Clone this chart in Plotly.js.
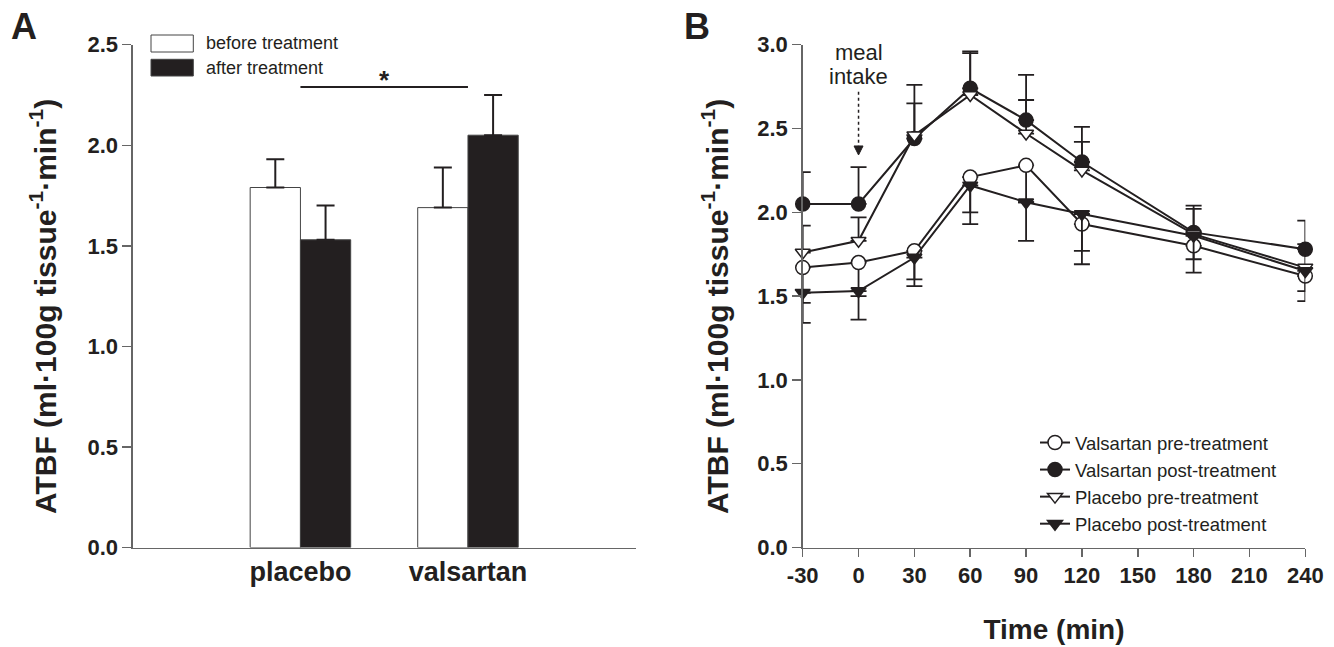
<!DOCTYPE html>
<html>
<head>
<meta charset="utf-8">
<script src="https://cdn.plot.ly/plotly-3.0.1.min.js"></script>
<style>html,body{margin:0;padding:0;background:#fff;}#chart{width:1334px;height:647px;}</style>
</head>
<body>
<div id="chart"></div>
<script>
// ---------- Panel A data ----------
const groups = ['placebo', 'valsartan'];
const barSeriesNames = ['before treatment', 'after treatment'];
const beforeTreatment = [1.79, 1.69];
const beforeSE = [0.14, 0.20];
const afterTreatment = [1.53, 2.05];
const afterSE = [0.17, 0.20];
const sigLevel = 2.29;
const sigLabel = '*';

// ---------- Panel B data ----------
const timePoints = [-30, 0, 30, 60, 90, 120, 180, 240];
const timeTicks = [-30, 0, 30, 60, 90, 120, 150, 180, 210, 240];
const timeTickLabels = ['-30', '0', '30', '60', '90', '120', '150', '180', '210', '240'];
const lineSeriesNames = ['Valsartan pre-treatment', 'Valsartan post-treatment', 'Placebo pre-treatment', 'Placebo post-treatment'];
const valsartanPre = [1.67, 1.70, 1.77, 2.21, 2.28, 1.93, 1.80, 1.62];
const valsartanPreSE = [0.21, 0.20, 0.17, 0.21, 0.22, 0.24, 0.16, 0.15];
const valsartanPost = [2.05, 2.05, 2.44, 2.74, 2.55, 2.30, 1.88, 1.78];
const valsartanPostSE = [0.19, 0.22, 0.32, 0.22, 0.27, 0.21, 0.16, 0.17];
const placeboPre = [1.76, 1.83, 2.46, 2.70, 2.47, 2.25, 1.87, 1.67];
const placeboPreSE = [0.16, 0.14, 0.19, 0.25, 0.20, 0.17, 0.15, 0.14];
const placeboPost = [1.52, 1.53, 1.73, 2.16, 2.06, 1.99, 1.86, 1.65];
const placeboPostSE = [0.18, 0.17, 0.17, 0.23, 0.23, 0.22, 0.14, 0.12];
const mealTime = 0;
const mealArrowTip = 2.342;

const INK = '#231f20';
const AXC = '#666666';
const FONT = 'Liberation Sans, Arial, Helvetica, sans-serif';
const W = 1334, H = 647;
const px = v => v / W;
const py = v => (H - v) / H;
const zeros = a => a.map(() => 0);

const yTitle = 'ATBF (ml·100g tissue<sup>-1</sup>·min<sup>-1</sup>)';

const traces = [
  {
    type: 'bar', x: groups, y: beforeTreatment, name: barSeriesNames[0],
    xaxis: 'x', yaxis: 'y', showlegend: false,
    marker: {color: '#ffffff', line: {color: '#444', width: 1}},
    error_y: {type: 'data', symmetric: false, array: beforeSE, arrayminus: zeros(beforeSE), color: INK, thickness: 2, width: 9}
  },
  {
    type: 'bar', x: groups, y: afterTreatment, name: barSeriesNames[1],
    xaxis: 'x', yaxis: 'y', showlegend: false,
    marker: {color: INK, line: {color: '#444', width: 1}},
    error_y: {type: 'data', symmetric: false, array: afterSE, arrayminus: zeros(afterSE), color: INK, thickness: 2, width: 9}
  }
];

function lineTrace(name, y, se, up, symbol, fill, size) {
  return {
    type: 'scatter', mode: 'lines+markers', x: timePoints, y: y, name: name,
    xaxis: 'x2', yaxis: 'y2', legend: 'legend2', cliponaxis: false,
    line: {color: INK, width: 2},
    marker: {symbol: symbol, size: size, color: fill, line: {color: INK, width: 1.5}},
    error_y: up
      ? {type: 'data', symmetric: false, array: se, arrayminus: zeros(se), color: INK, thickness: 1.8, width: 8}
      : {type: 'data', symmetric: false, array: zeros(se), arrayminus: se, color: INK, thickness: 1.8, width: 8}
  };
}
traces.push(lineTrace(lineSeriesNames[0], valsartanPre, valsartanPreSE, false, 'circle', '#ffffff', 14));
traces.push(lineTrace(lineSeriesNames[1], valsartanPost, valsartanPostSE, true, 'circle', INK, 14));
traces.push(lineTrace(lineSeriesNames[2], placeboPre, placeboPreSE, true, 'triangle-down', '#ffffff', 13));
traces.push(lineTrace(lineSeriesNames[3], placeboPost, placeboPostSE, false, 'triangle-down', INK, 13));

const axisCommon = {
  showline: true, linecolor: AXC, linewidth: 1.5, showgrid: false, zeroline: false,
  ticks: 'outside', ticklen: 9, tickwidth: 1.5, tickcolor: AXC,
  tickfont: {family: FONT, size: 22, color: INK, weight: 'bold'}, fixedrange: true
};

const yDom = [py(547.5), py(44.7)];
const titleFont = {family: FONT, size: 30, color: INK, weight: 'bold'};

const layout = {
  width: W, height: H,
  margin: {l: 0, r: 0, t: 0, b: 0},
  paper_bgcolor: '#ffffff', plot_bgcolor: '#ffffff',
  font: {family: FONT, color: INK},
  barmode: 'group', bargap: 0.4, bargroupgap: 0,
  showlegend: true,
  xaxis: Object.assign({}, axisCommon, {
    domain: [px(132.9), px(635.5)], anchor: 'y', type: 'category', range: [-1, 2],
    ticks: '', tickfont: {family: FONT, size: 27, color: INK, weight: 'bold'}
  }),
  yaxis: Object.assign({}, axisCommon, {
    domain: yDom, anchor: 'x', range: [0, 2.5], dtick: 0.5, tickformat: '.1f'
  }),
  xaxis2: Object.assign({}, axisCommon, {
    domain: [px(802.7), px(1305.3)], anchor: 'y2', range: [-30, 240],
    tickmode: 'array', tickvals: timeTicks, ticktext: timeTickLabels, ticklen: 8,
    title: {text: 'Time (min)', font: {family: FONT, size: 28, color: INK, weight: 'bold'}, standoff: 32}
  }),
  yaxis2: Object.assign({}, axisCommon, {
    domain: yDom, anchor: 'x2', range: [0, 3.0], dtick: 0.5, tickformat: '.1f'
  }),
  legend2: {
    x: px(1035), y: py(424), xanchor: 'left', yanchor: 'top',
    bgcolor: 'rgba(0,0,0,0)', borderwidth: 0, tracegroupgap: 0,
    font: {family: FONT, size: 18.5, color: INK}
  },
  shapes: [
    // significance bar between groups
    {type: 'line', xref: 'x', yref: 'y', x0: 0, x1: 1, y0: sigLevel, y1: sigLevel, line: {color: INK, width: 2}},
    // manual legend boxes for panel A
    {type: 'rect', xref: 'paper', yref: 'paper', x0: px(151), x1: px(193.3), y0: py(52), y1: py(35), fillcolor: '#ffffff', line: {color: '#444', width: 1}},
    {type: 'rect', xref: 'paper', yref: 'paper', x0: px(151), x1: px(193.3), y0: py(76), y1: py(59.3), fillcolor: INK, line: {color: '#444', width: 1}},
    // meal intake dashed arrow shaft
    {type: 'line', xref: 'x2', yref: 'y2', x0: mealTime, x1: mealTime, y0: 2.72, y1: 2.39, line: {color: INK, width: 1.5, dash: '3px,3px'}},
    // arrow head (pixel-sized, anchored at the tip)
    {type: 'path', xref: 'x2', yref: 'y2', xsizemode: 'pixel', ysizemode: 'pixel', xanchor: mealTime, yanchor: mealArrowTip,
     path: 'M0,0 L-4.5,9 L4.5,9 Z', fillcolor: INK, line: {color: INK, width: 1}}
  ],
  annotations: [
    {xref: 'paper', yref: 'paper', x: px(9), y: py(26), xanchor: 'left', yanchor: 'middle', text: 'A', showarrow: false, font: {family: FONT, size: 36, color: INK, weight: 'bold'}},
    {xref: 'paper', yref: 'paper', x: px(682), y: py(26), xanchor: 'left', yanchor: 'middle', text: 'B', showarrow: false, font: {family: FONT, size: 36, color: INK, weight: 'bold'}},
    {xref: 'paper', yref: 'paper', x: px(43), y: py(307), xanchor: 'center', yanchor: 'middle', textangle: -90, text: yTitle, showarrow: false, font: titleFont},
    {xref: 'paper', yref: 'paper', x: px(715), y: py(307), xanchor: 'center', yanchor: 'middle', textangle: -90, text: yTitle, showarrow: false, font: titleFont},
    {xref: 'paper', yref: 'paper', x: px(204), y: py(43.5), xanchor: 'left', yanchor: 'middle', text: barSeriesNames[0], showarrow: false, font: {family: FONT, size: 18, color: INK}},
    {xref: 'paper', yref: 'paper', x: px(204), y: py(67.7), xanchor: 'left', yanchor: 'middle', text: barSeriesNames[1], showarrow: false, font: {family: FONT, size: 18, color: INK}},
    {xref: 'x', yref: 'y', x: 0.5, y: 2.24, xanchor: 'center', yanchor: 'bottom', text: sigLabel, showarrow: false, font: {family: FONT, size: 26, color: INK, weight: 'bold'}},
    {xref: 'x2', yref: 'y2', x: mealTime, y: 2.952, xanchor: 'center', yanchor: 'middle', text: 'meal', showarrow: false, font: {family: FONT, size: 22, color: INK}},
    {xref: 'x2', yref: 'y2', x: mealTime, y: 2.809, xanchor: 'center', yanchor: 'middle', text: 'intake', showarrow: false, font: {family: FONT, size: 22, color: INK}}
  ]
};

Plotly.newPlot('chart', traces, layout, {staticPlot: true, displayModeBar: false});
</script>
</body>
</html>
